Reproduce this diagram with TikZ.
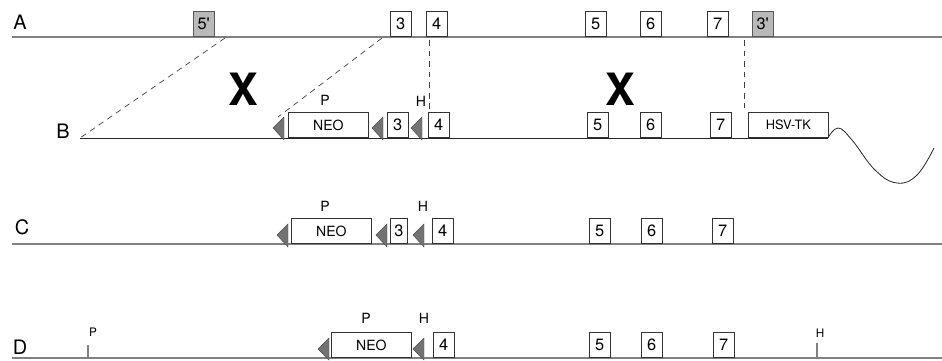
\documentclass[tikz,border=0pt]{standalone}
\usepackage{fontspec}
\setmainfont{TeX Gyre Heros}
\usetikzlibrary{arrows.meta}

\tikzset{
  exon/.style={draw=black!80,line width=0.6pt,fill=white,inner sep=0pt,anchor=south west,
    minimum width=0.62cm,minimum height=0.75cm,font=\fontsize{14}{14}\selectfont},
  arm/.style={exon,draw=black!65,fill=gray!55},
  neo/.style={exon,minimum width=2.4cm,font=\fontsize{12}{12}\selectfont},
  site/.style={inner sep=0pt,font=\fontsize{12}{12}\selectfont},
  row/.style={inner sep=0pt,font=\fontsize{17}{17}\selectfont},
  cross/.style={inner sep=0pt,font=\fontsize{38}{38}\selectfont\bfseries},
  chrom/.style={draw=black!50,line width=1.6pt},
  vector/.style={draw=black!85,line width=0.7pt},
  promo/.style={fill=black!55,draw=black!70,line width=0.4pt},
  homol/.style={black!75,line width=0.6pt,dash pattern=on 5pt off 4pt}
}

\begin{document}
\begin{tikzpicture}[x=0.03cm,y=-0.03cm]
  \useasboundingbox (0,0) rectangle (942,360);

  % A: locus
  \draw[chrom] (12,37) coordinate (A0) -- (942,37) coordinate (A1);
  \node[row] (lA) at (20,22) {A};
  \node[arm] (a5p) at (193,37) {5\textquotesingle};
  \node[exon] (a3) at (390,37) {3};
  \node[exon] (a4) at (426,37) {4};
  \foreach \n/\x in {5/585,6/640,7/707}
    \node[exon] (a\n) at (\x,37) {\n};
  \node[arm] (a3p) at (752,37) {3\textquotesingle};

  % B: vector
  \node[row] (lB) at (63,131) {B};
  \draw[vector] (80,138) coordinate (B0) -- (828,138) coordinate (B1);
  \draw[vector] plot[smooth,tension=0.7] coordinates
    {(B1) (838,128) (852,140) (875,170) (897,183) (917,175) (934,148)};
  \foreach \t in {273,372,411}
    \filldraw[promo] (\t,128) -- (\t+11,117) -- (\t+11,140) -- cycle;
  \node[neo] (bneo) at (288,138) {NEO};
  \node[exon] (b3) at (387,138) {3};
  \node[exon] (b4) at (428,138) {4};
  \foreach \n/\x in {5/587,6/640,7/710}
    \node[exon] (b\n) at (\x,138) {\n};
  \node[neo,font=\fontsize{11}{11}\selectfont] (btk) at (748,138) {HSV-TK};
  \node[site] (bP) at (325,100) {P};
  \node[site] (bH) at (421,101) {H};

  % homologie
  \coordinate (h1) at (225,38);
  \coordinate (h2) at (382,38);
  \coordinate (h2b) at (278,117);
  \coordinate (h3) at (429,40);
  \coordinate (h3b) at (429,110);
  \coordinate (h4) at (744,40);
  \coordinate (h4b) at (744,108);
  \draw[homol] (h1) -- (B0);
  \draw[homol] (h2) -- (h2b);
  \draw[homol] (h3) -- (h3b);
  \draw[homol] (h4) -- (h4b);
  \node[cross] (x1) at (243,89) {X};
  \node[cross] (x2) at (620,89) {X};

  % C: recombinant
  \draw[chrom] (12,244) coordinate (C0) -- (942,244) coordinate (C1);
  \node[row] (lC) at (22,227) {C};
  \foreach \t in {277,376,413}
    \filldraw[promo] (\t,235) -- (\t+11,224) -- (\t+11,247) -- cycle;
  \node[neo] (cneo) at (291,244) {NEO};
  \node[exon,minimum width=0.52cm] (c3) at (390,244) {3};
  \node[exon] (c4) at (432,244) {4};
  \foreach \n/\x in {5/589,6/641,7/712}
    \node[exon] (c\n) at (\x,244) {\n};
  \node[site] (cP) at (325,206) {P};
  \node[site] (cH) at (423,206) {H};

  % D: map
  \draw[chrom] (12,358) coordinate (D0) -- (942,358) coordinate (D1);
  \node[row] (lD) at (20,347) {D};
  \draw[chrom,line width=1pt] (88,358) coordinate (dp0) -- (88,345) coordinate (dp1);
  \node[site,font=\fontsize{10}{10}\selectfont] (dPt) at (93,332) {P};
  \foreach \t in {318,413}
    \filldraw[promo] (\t,349) -- (\t+11,338) -- (\t+11,360) -- cycle;
  \node[neo] (dneo) at (331,358) {NEO};
  \node[exon] (d4) at (433,358) {4};
  \foreach \n/\x in {5/589,6/641,7/713}
    \node[exon] (d\n) at (\x,358) {\n};
  \node[site] (dP) at (366,318) {P};
  \node[site] (dH) at (424,318) {H};
  \draw[chrom,line width=1pt] (817,358) coordinate (dh0) -- (817,343) coordinate (dh1);
  \node[site,font=\fontsize{10}{10}\selectfont] (dHt) at (820,333) {H};
\end{tikzpicture}
\end{document}
